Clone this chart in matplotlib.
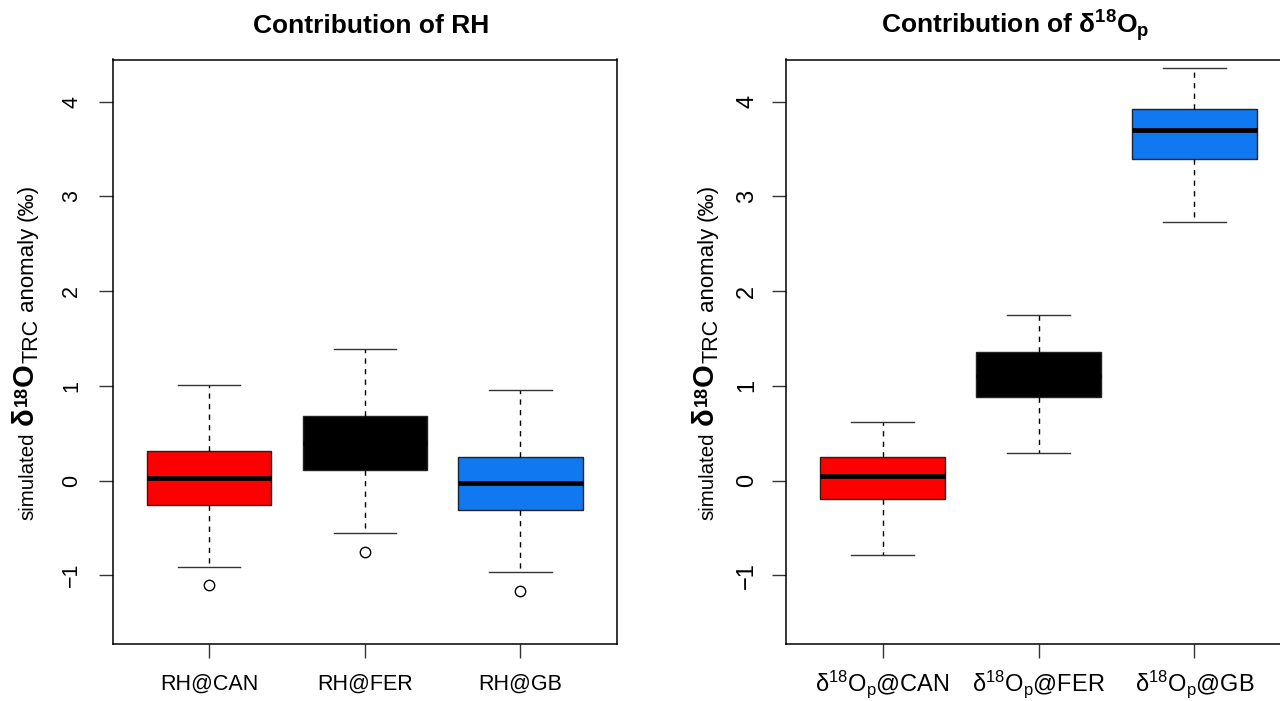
import matplotlib
matplotlib.use("Agg")
import matplotlib.pyplot as plt
from matplotlib.transforms import IdentityTransform

plt.rcParams['font.family'] = ['Liberation Sans', 'DejaVu Sans']
plt.rcParams['mathtext.fontset'] = 'custom'
plt.rcParams['mathtext.rm'] = 'Liberation Sans'
plt.rcParams['mathtext.it'] = 'Liberation Sans:italic'
plt.rcParams['mathtext.bf'] = 'Liberation Sans:bold'
plt.rcParams['mathtext.default'] = 'regular'

# ---------------- data (box statistics) ----------------
rh_labels = ["RH@CAN", "RH@FER", "RH@GB"]
rh_whislo = [-0.908, -0.549, -0.965]
rh_q1 = [-0.258, 0.113, -0.315]
rh_med = [0.032, 0.40, -0.028]
rh_q3 = [0.307, 0.682, 0.246]
rh_whishi = [1.013, 1.384, 0.953]
rh_fliers = [[-1.106], [-0.755], [-1.166]]

d18_labels = ["δ$^{18}$O$_{p}$@CAN", "δ$^{18}$O$_{p}$@FER", "δ$^{18}$O$_{p}$@GB"]
d18_whislo = [-0.787, 0.287, 2.733]
d18_q1 = [-0.198, 0.880, 3.398]
d18_med = [0.044, 1.10, 3.697]
d18_q3 = [0.246, 1.356, 3.919]
d18_whishi = [0.618, 1.744, 4.351]
d18_fliers = [[], [], []]

box_colors = ["#FF0000", "#000000", "#1078F0"]
yticks = [-1, 0, 1, 2, 3, 4]

W, H = 1280, 701
fig = plt.figure(figsize=(W / 100, H / 100), dpi=100)


def px_axes(x0, x1, y0, y1):
    return fig.add_axes([x0 / W, (H - y1) / H, (x1 - x0) / W, (y1 - y0) / H])


def draw_panel(ax, labels, wlo, q1, med, q3, whi, fl, tsize, xpad, ypad):
    stats = []
    for i in range(len(labels)):
        stats.append(dict(whislo=wlo[i], q1=q1[i], med=med[i], q3=q3[i],
                          whishi=whi[i], fliers=fl[i], label=labels[i]))
    bp = ax.bxp(stats, positions=[1, 2, 3], widths=0.8, patch_artist=True,
                capwidths=0.4, showfliers=True,
                boxprops=dict(linewidth=1.0, edgecolor='#222222'),
                whiskerprops=dict(linewidth=1.0, color='black', linestyle=(0, (3.8, 3.8))),
                capprops=dict(linewidth=1.0, color='#333333'),
                medianprops=dict(linewidth=3.4, color='black', solid_capstyle='butt'),
                flierprops=dict(marker='o', markersize=7.5, markerfacecolor='none',
                                markeredgecolor='black', markeredgewidth=1.0))
    for patch, c in zip(bp['boxes'], box_colors):
        patch.set_facecolor(c)
    ax.set_xlim(0.38, 3.62)
    ax.set_ylim(-1.72, 4.444)
    ax.set_yticks(yticks)
    ax.set_yticklabels([str(v).replace('-', '\u2212') for v in yticks], rotation=90,
                       va='center', fontsize=tsize)
    ax.set_xticks([1, 2, 3])
    ax.set_xticklabels(labels, fontsize=tsize)
    ax.tick_params(axis='both', length=10, width=1.0, color='#333333')
    ax.tick_params(axis='x', pad=xpad)
    ax.tick_params(axis='y', pad=ypad)
    for s in ax.spines.values():
        s.set_linewidth(1.1)


ax1 = px_axes(112.6, 617, 59.5, 643.5)
draw_panel(ax1, rh_labels, rh_whislo, rh_q1, rh_med, rh_q3, rh_whishi, rh_fliers, 15.5, 12, 12)
ax2 = px_axes(786, 1291, 59.5, 643.5)
draw_panel(ax2, d18_labels, d18_whislo, d18_q1, d18_med, d18_q3, d18_whishi, d18_fliers, 17, 8, 10)

# titles
fig.text(371.5 / W, (H - 33) / H, "Contribution of RH", fontsize=19,
         fontweight='bold', ha='center', va='baseline')
fig.text(1015 / W, (H - 33) / H, "Contribution of δ$^{18}$O$_{p}$", fontsize=19,
         fontweight='bold', ha='center', va='baseline')

# composite rotated y labels
renderer = fig.canvas.get_renderer()


def rot_label(x_base, yc_img, pieces):
    items = []
    for s, size, weight, dx, gap in pieces:
        t = fig.text(0, 0, s, fontsize=size, fontweight=weight, rotation=90,
                     rotation_mode='anchor', ha='left', va='baseline',
                     transform=IdentityTransform())
        items.append((t, dx, gap))
    lengths = [t.get_window_extent(renderer).height for t, _, _ in items]
    total = sum(lengths) + sum(g for _, _, g in items)
    y = (H - yc_img) - total / 2
    for (t, dx, gap), L in zip(items, lengths):
        t.set_position((x_base + dx, y))
        y += L + gap


def label_pieces():
    return [("simulated", 14.8, 'normal', 0, 7),
            ("δ", 21, 'bold', 0, 1),
            ("18", 13, 'bold', -6, 1),
            ("O", 21, 'bold', 0, 0),
            ("TRC", 15.5, 'normal', 5, 8),
            ("anomaly", 16, 'normal', 0, 5),
            ("(‰)", 16, 'normal', 0, 0)]


rot_label(33, 352, label_pieces())
rot_label(713, 352, label_pieces())

fig.savefig("out.png", dpi=100)
